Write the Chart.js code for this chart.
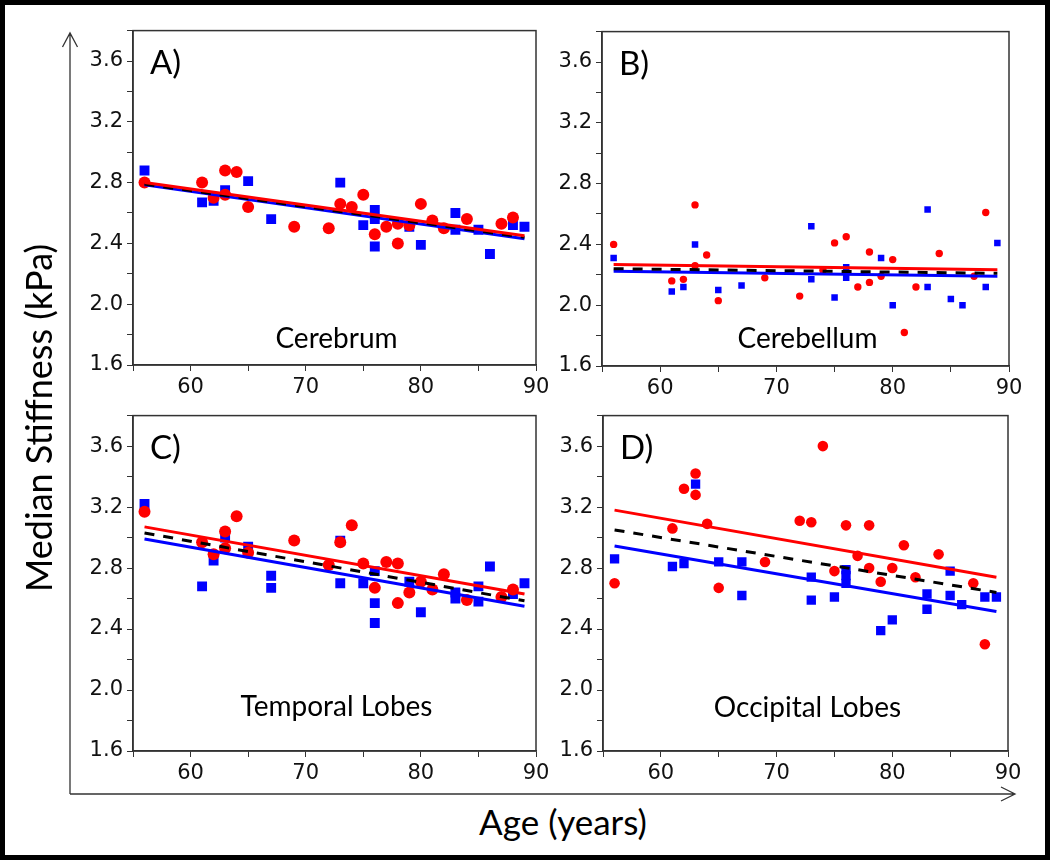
<!DOCTYPE html>
<html>
<head>
<meta charset="utf-8">
<script src="https://cdn.jsdelivr.net/npm/chart.js@4.4.1/dist/chart.umd.min.js"></script>
<style>
html,body{margin:0;padding:0;background:#fff;}
#frame{position:relative;width:1050px;height:860px;overflow:hidden;background:#fff;}
#edge{position:absolute;left:0;top:0;width:1050px;height:860px;box-sizing:border-box;border:5px solid #000;pointer-events:none;z-index:10;}
canvas{position:absolute;}
svg{position:absolute;left:0;top:0;}
.ttl{position:absolute;font-family:Lato,'Open Sans',sans-serif;color:#000;white-space:nowrap;line-height:1;}
#xt{font-size:35px;left:563px;top:804px;transform:translateX(-50%);}
#yt{font-size:36px;left:38px;top:418px;transform:translate(-50%,-50%) rotate(-90deg);}
</style>
</head>
<body>
<div id="frame">
<svg width="1050" height="860">
  <path d="M70 794 L70 34 M62.5 47 L70 33 L77.5 47" stroke="#333" stroke-width="1.3" fill="none"/>
  <path d="M70 794 L1015 794 M1001 787 L1015 794 L1001 801" stroke="#333" stroke-width="1.3" fill="none"/>
</svg>
<canvas id="pA"></canvas>
<canvas id="pB"></canvas>
<canvas id="pC"></canvas>
<canvas id="pD"></canvas>
<div class="ttl" id="xt">Age (years)</div>
<div class="ttl" id="yt">Median Stiffness (kPa)</div>
<div id="edge"></div>
</div>
<script>
// ---- tick labels ----
const xTickLabels = ['60', '70', '80', '90'];
const yTickLabels = ['1.6', '2.0', '2.4', '2.8', '3.2', '3.6'];
const fitAges = [56, 89];

// ---- A) Cerebrum ----
const cerebrumBlueAge = [56, 61, 62, 63, 65, 67, 73, 75, 76, 76, 76, 79, 80, 83, 83, 85, 86, 88, 89];
const cerebrumBlueVal = [2.88, 2.67, 2.68, 2.75, 2.81, 2.56, 2.80, 2.52, 2.62, 2.56, 2.38, 2.51, 2.39, 2.60, 2.49, 2.49, 2.33, 2.52, 2.51];
const cerebrumRedAge = [56, 61, 62, 63, 63, 64, 65, 69, 72, 73, 74, 75, 76, 77, 78, 78, 79, 80, 81, 82, 84, 87, 88];
const cerebrumRedVal = [2.80, 2.80, 2.70, 2.88, 2.72, 2.87, 2.64, 2.51, 2.50, 2.66, 2.64, 2.72, 2.46, 2.51, 2.53, 2.40, 2.52, 2.66, 2.55, 2.50, 2.56, 2.53, 2.57];
const cerebrumRedFit = [2.80, 2.45];
const cerebrumMeanFit = [2.79, 2.44];
const cerebrumBlueFit = [2.785, 2.43];

// ---- B) Cerebellum ----
const cerebellumBlueAge = [56, 61, 62, 63, 65, 67, 73, 73, 75, 76, 76, 79, 80, 83, 83, 85, 86, 88, 89];
const cerebellumBlueVal = [2.31, 2.09, 2.12, 2.40, 2.10, 2.13, 2.52, 2.17, 2.05, 2.25, 2.18, 2.31, 2.00, 2.63, 2.12, 2.04, 2.00, 2.12, 2.41];
const cerebellumRedAge = [56, 61, 62, 63, 63, 64, 65, 69, 72, 74, 75, 76, 77, 78, 78, 79, 80, 81, 82, 84, 87, 88];
const cerebellumRedVal = [2.40, 2.16, 2.17, 2.66, 2.26, 2.33, 2.03, 2.18, 2.06, 2.23, 2.41, 2.45, 2.12, 2.35, 2.15, 2.19, 2.30, 1.82, 2.12, 2.34, 2.19, 2.61];
const cerebellumRedFit = [2.267, 2.234];
const cerebellumMeanFit = [2.24, 2.21];
const cerebellumBlueFit = [2.223, 2.19];

// ---- C) Temporal Lobes ----
const temporalBlueAge = [56, 61, 62, 63, 65, 67, 67, 73, 73, 75, 76, 76, 76, 79, 80, 83, 83, 85, 85, 86, 88, 89];
const temporalBlueVal = [3.22, 2.68, 2.85, 3.00, 2.94, 2.75, 2.67, 2.98, 2.70, 2.70, 2.78, 2.57, 2.44, 2.71, 2.51, 2.64, 2.60, 2.68, 2.58, 2.81, 2.63, 2.70];
const temporalRedAge = [56, 61, 62, 63, 63, 64, 65, 69, 72, 73, 74, 75, 76, 77, 78, 78, 79, 80, 81, 82, 84, 87, 88];
const temporalRedVal = [3.17, 2.97, 2.89, 3.04, 2.93, 3.14, 2.90, 2.98, 2.82, 2.97, 3.08, 2.83, 2.67, 2.84, 2.83, 2.57, 2.64, 2.71, 2.66, 2.76, 2.59, 2.61, 2.66];
const temporalRedFit = [3.07, 2.63];
const temporalMeanFit = [3.03, 2.585];
const temporalBlueFit = [2.99, 2.55];

// ---- D) Occipital Lobes ----
const occipitalBlueAge = [56, 61, 62, 63, 65, 67, 67, 73, 73, 75, 76, 76, 76, 79, 80, 83, 83, 85, 85, 86, 88, 89];
const occipitalBlueVal = [2.86, 2.81, 2.83, 3.35, 2.84, 2.84, 2.62, 2.74, 2.59, 2.61, 2.79, 2.75, 2.70, 2.39, 2.46, 2.63, 2.53, 2.78, 2.62, 2.56, 2.61, 2.61];
const occipitalRedAge = [56, 61, 62, 63, 63, 64, 65, 69, 72, 73, 74, 75, 76, 77, 78, 78, 79, 80, 81, 82, 84, 87, 88];
const occipitalRedVal = [2.70, 3.06, 3.32, 3.42, 3.28, 3.09, 2.67, 2.84, 3.11, 3.10, 3.60, 2.78, 3.08, 2.88, 3.08, 2.80, 2.71, 2.80, 2.95, 2.74, 2.89, 2.70, 2.30];
const occipitalRedFit = [3.18, 2.74];
const occipitalMeanFit = [3.05, 2.64];
const occipitalBlueFit = [2.945, 2.515];

const pts = (xs, ys) => xs.map((x, i) => ({ x: x, y: ys[i] }));
const tickFont = { family: "'DejaVu Sans', sans-serif", size: 21 };

function panel(id, area, d) {
  const YW = 80, PT = 16, PR = 24, XH = 40;
  const cv = document.getElementById(id);
  const w = area.r - area.l + YW + PR;
  const h = area.b - area.t + PT + XH;
  cv.width = w; cv.height = h;
  cv.style.width = w + 'px'; cv.style.height = h + 'px';
  cv.style.left = (area.l - YW) + 'px'; cv.style.top = (area.t - PT) + 'px';

  const deco = {
    id: 'deco',
    afterDraw(chart) {
      const ctx = chart.ctx, a = chart.chartArea;
      ctx.save();
      ctx.strokeStyle = '#333';
      ctx.lineWidth = 1.5;
      ctx.strokeRect(a.left, a.top, a.right - a.left, a.bottom - a.top);
      ctx.fillStyle = '#000';
      ctx.textBaseline = 'alphabetic';
      ctx.textAlign = 'left';
      ctx.font = '33px Lato';
      ctx.fillText(d.letter, a.left + 17, a.top + 43);
      ctx.textAlign = 'center';
      ctx.font = '28px Lato';
      ctx.fillText(d.region, (a.left + a.right) / 2 + 2, a.bottom - d.lift);
      ctx.restore();
    }
  };

  new Chart(cv, {
    type: 'scatter',
    data: {
      datasets: [
        { data: pts(fitAges, d.redFit), showLine: true, borderColor: '#ff0000', borderWidth: 3, pointRadius: 0, order: 0 },
        { data: pts(fitAges, d.meanFit), showLine: true, borderColor: '#000000', borderWidth: 3, borderDash: [10, 9], pointRadius: 0, order: 1 },
        { data: pts(fitAges, d.blueFit), showLine: true, borderColor: '#0000ff', borderWidth: 3, pointRadius: 0, order: 2 },
        { data: pts(d.redAge, d.redVal), pointStyle: 'circle', pointRadius: d.dot, backgroundColor: '#ff0000', borderWidth: 0, order: 3 },
        { data: pts(d.blueAge, d.blueVal), pointStyle: 'rect', pointRadius: d.sq, backgroundColor: '#0000ff', borderWidth: 0, order: 4 }
      ]
    },
    options: {
      responsive: false,
      animation: false,
      devicePixelRatio: 1,
      layout: { padding: { left: 0, top: PT, right: PR, bottom: 0 } },
      plugins: { legend: { display: false }, tooltip: { enabled: false } },
      scales: {
        x: {
          type: 'linear', min: 55, max: 90,
          ticks: {
            stepSize: 5, autoSkip: false, maxRotation: 0, padding: 4,
            font: tickFont, color: '#111',
            callback: v => xTickLabels.includes(String(Math.round(v))) ? String(Math.round(v)) : ''
          },
          grid: { drawOnChartArea: false, drawTicks: true, tickLength: 6, color: '#333' },
          border: { color: '#333', width: 1.5 },
          afterFit: s => { s.height = XH; }
        },
        y: {
          type: 'linear', min: 1.6, max: 3.8,
          ticks: {
            stepSize: 0.2, autoSkip: false, padding: 4,
            font: tickFont, color: '#111',
            callback: v => { const t = (Math.round(v * 10) / 10).toFixed(1); return yTickLabels.includes(t) ? t : ''; }
          },
          grid: { drawOnChartArea: false, drawTicks: true, tickLength: 6, color: '#333' },
          border: { color: '#333', width: 1.5 },
          afterFit: s => { s.width = YW; }
        }
      }
    },
    plugins: [deco]
  });
}

panel('pA', { l: 133, t: 30, r: 536, b: 365 }, {
  letter: 'A)', region: 'Cerebrum', lift: 17, sq: 7, dot: 6,
  blueAge: cerebrumBlueAge, blueVal: cerebrumBlueVal, redAge: cerebrumRedAge, redVal: cerebrumRedVal,
  redFit: cerebrumRedFit, meanFit: cerebrumMeanFit, blueFit: cerebrumBlueFit
});
panel('pB', { l: 602, t: 31, r: 1009, b: 366 }, {
  letter: 'B)', region: 'Cerebellum', lift: 18, sq: 4.6, dot: 3.7,
  blueAge: cerebellumBlueAge, blueVal: cerebellumBlueVal, redAge: cerebellumRedAge, redVal: cerebellumRedVal,
  redFit: cerebellumRedFit, meanFit: cerebellumMeanFit, blueFit: cerebellumBlueFit
});
panel('pC', { l: 133, t: 415, r: 536, b: 751 }, {
  letter: 'C)', region: 'Temporal Lobes', lift: 35, sq: 7, dot: 6,
  blueAge: temporalBlueAge, blueVal: temporalBlueVal, redAge: temporalRedAge, redVal: temporalRedVal,
  redFit: temporalRedFit, meanFit: temporalMeanFit, blueFit: temporalBlueFit
});
panel('pD', { l: 603, t: 415, r: 1008, b: 751 }, {
  letter: 'D)', region: 'Occipital Lobes', lift: 34, sq: 6.6, dot: 5.3,
  blueAge: occipitalBlueAge, blueVal: occipitalBlueVal, redAge: occipitalRedAge, redVal: occipitalRedVal,
  redFit: occipitalRedFit, meanFit: occipitalMeanFit, blueFit: occipitalBlueFit
});
</script>
</body>
</html>
